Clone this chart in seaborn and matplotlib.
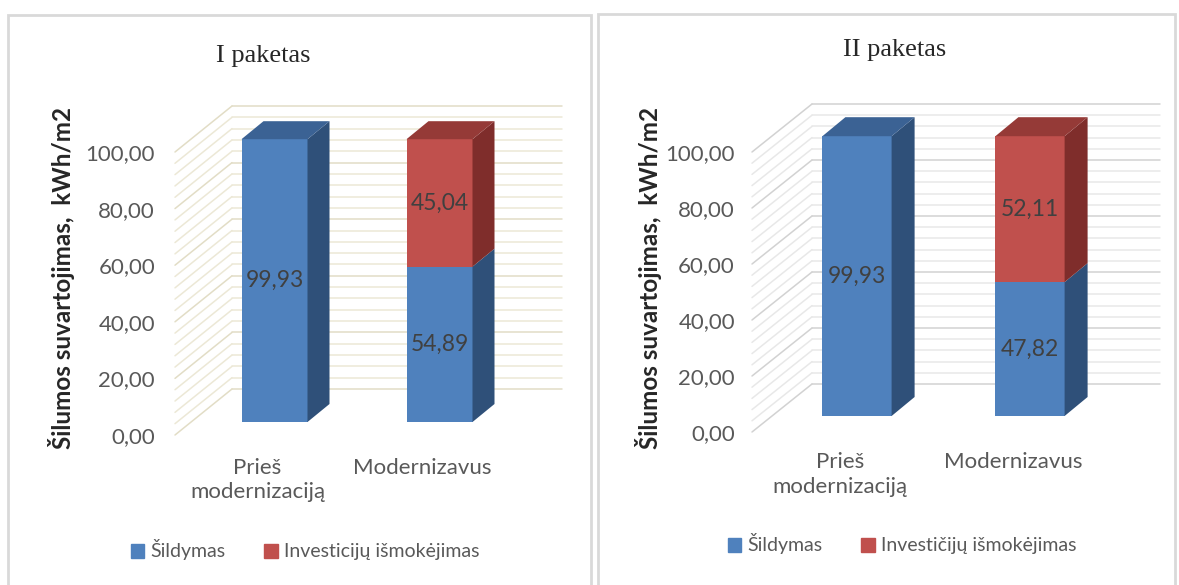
import numpy as np
import pandas as pd
import matplotlib.pyplot as plt
import seaborn as sns
from matplotlib.patches import Polygon, Rectangle, Patch

# Data
categories = ["Prieš\nmodernizaciją", "Modernizavus"]
heat_1 = [99.93, 54.89]
invest_1 = [0.0, 45.04]
heat_2 = [99.93, 47.82]
invest_2 = [0.0, 52.11]
titles = ["I paketas", "II paketas"]
legend_1 = ["Šildymas", "Investicijų išmokėjimas"]
legend_2 = ["Šildymas", "Investičijų išmokėjimas"]
y_label = "Šilumos suvartojimas,  kWh/m2"
y_ticks = [0, 20, 40, 60, 80, 100]
grid_step = 4

BLUE, BLUE_SIDE, BLUE_TOP = "#4f81bd", "#2f5079", "#3b6294"
RED, RED_SIDE, RED_TOP = "#c0504d", "#7f2d2b", "#953a37"

sns.set_theme(style="white")
plt.rcParams['font.family'] = ['Lato', 'DejaVu Sans']

W, H = 1179, 585
fig = plt.figure(figsize=(W / 100, H / 100), dpi=100)

# panel geometry in pixels (3D look of the original)
geo_1 = dict(c0=274.5, sp=165, y0=422, ppu=2.83, diag=175, wall=232, wall_top=106,
             label0=435, gend=562, bdx=22, bdy=18, left=170, right=566, top=95,
             bottom=445, lab_dx=-17, tick_right=155, ylab_x=62, title=(263, 56),
             legend=(305, 550), minor="#ece8d6", major="#e2ddc6")
geo_2 = dict(c0=857, sp=173, y0=416, ppu=2.8, diag=752, wall=812, wall_top=104,
             label0=432, gend=1160, bdx=23, bdy=19, left=747, right=1164, top=90,
             bottom=440, lab_dx=-17, tick_right=735, ylab_x=648, title=(895, 50),
             legend=(902, 544), minor="#e8e8e8", major="#d2d2d2")


def fmt(v):
    return f"{v:.2f}".replace(".", ",")


def draw_panel(g, heat, inv, title, leg_labels):
    ax = fig.add_axes([g['left'] / W, 1 - g['bottom'] / H,
                       (g['right'] - g['left']) / W, (g['bottom'] - g['top']) / H])
    ppu, sp = g['ppu'], g['sp']

    df = pd.DataFrame({'cat': categories, 'heat': heat, 'total': np.add(heat, inv)})
    sns.barplot(data=df, x='cat', y='total', color=RED, width=0.4, saturation=1,
                ax=ax, zorder=3, linewidth=0, edgecolor='none')
    n = len(ax.patches)
    sns.barplot(data=df, x='cat', y='heat', color=BLUE, width=0.4, saturation=1,
                ax=ax, zorder=4, linewidth=0, edgecolor='none')
    red_bars, blue_bars = ax.patches[:n], ax.patches[n:]

    bdx, bdy = g['bdx'] / sp, g['bdy'] / ppu
    for r, b, hv, iv in zip(red_bars, blue_bars, heat, inv):
        x, w = b.get_x(), b.get_width()
        hb, ht = b.get_height(), r.get_height()
        ax.add_patch(Polygon([(x + w, 0), (x + w + bdx, bdy), (x + w + bdx, hb + bdy),
                              (x + w, hb)], color=BLUE_SIDE, zorder=5, lw=0))
        if ht > hb:
            ax.add_patch(Polygon([(x + w, hb), (x + w + bdx, hb + bdy),
                                  (x + w + bdx, ht + bdy), (x + w, ht)],
                                 color=RED_SIDE, zorder=5, lw=0))
        top_c = RED_TOP if ht > hb else BLUE_TOP
        ax.add_patch(Polygon([(x, ht), (x + bdx, ht + bdy), (x + w + bdx, ht + bdy),
                              (x + w, ht)], color=top_c, zorder=5, lw=0))
        ax.text(x + w / 2, hb / 2, fmt(hv), ha='center', va='center',
                fontsize=16.5, color="#404040", zorder=6)
        if iv > 0:
            ax.text(x + w / 2, hb + iv / 2, fmt(iv), ha='center', va='center',
                    fontsize=16.5, color="#404040", zorder=6)

    # floor diagonals and back wall gridlines
    label_dy = (g['y0'] - g['label0']) / ppu
    wall_dy = (g['y0'] - g['wall_top']) / ppu - max(y_ticks)
    dx0 = (g['diag'] - g['c0']) / sp
    wx = (g['wall'] - g['c0']) / sp
    gx = (g['gend'] - g['c0']) / sp
    for v in np.arange(0, max(y_ticks) + 1, grid_step):
        c = g['major'] if v % 20 == 0 else g['minor']
        ax.plot([dx0, wx], [v + label_dy, v + wall_dy], color=c, lw=1.1, zorder=1)
        ax.plot([wx, gx], [v + wall_dy, v + wall_dy], color=c, lw=1.1, zorder=1)

    ax.set_xlim((g['left'] - g['c0']) / sp, (g['right'] - g['c0']) / sp)
    ax.set_ylim((g['y0'] - g['bottom']) / ppu, (g['y0'] - g['top']) / ppu)
    ax.set_yticks(np.array(y_ticks) + label_dy, labels=[fmt(v) for v in y_ticks])
    ax.set_xticks(np.arange(len(categories)) + g['lab_dx'] / sp, labels=categories)
    ax.tick_params(axis='y', length=0, labelsize=16, labelcolor="#595959",
                   pad=(g['left'] - g['tick_right']) * 0.72)
    ax.tick_params(axis='x', length=0, labelsize=16, labelcolor="#595959", pad=9)
    for t in ax.get_xticklabels():
        t.set_multialignment('center')
        t.set_linespacing(1.3)
    ax.set_xlabel("")
    ax.set_ylabel("")
    ax.grid(False)
    sns.despine(ax=ax, left=True, bottom=True)
    ax.patch.set_alpha(0)

    fig.text(g['ylab_x'] / W, 1 - 278 / H, y_label, rotation=90, ha='center',
             va='center', fontsize=17.5, fontweight='bold', color="#262626")
    fig.text(g['title'][0] / W, 1 - g['title'][1] / H, title, ha='center',
             va='center', family='Liberation Serif', fontsize=19, color="#262626")
    handles = [Patch(color=BLUE), Patch(color=RED)]
    fig.legend(handles, leg_labels, loc='center',
               bbox_to_anchor=(g['legend'][0] / W, 1 - g['legend'][1] / H),
               ncol=2, frameon=False, fontsize=14, handlelength=0.7, handleheight=0.7,
               handletextpad=0.3, columnspacing=2.0, labelcolor="#595959")


# panel frames
fig.add_artist(Rectangle((8 / W, -0.1), 583 / W, 1.1 - 15 / H, transform=fig.transFigure,
                         fill=False, edgecolor="#d9d9d9", lw=2))
fig.add_artist(Rectangle((598 / W, -0.1), 577 / W, 1.1 - 14 / H, transform=fig.transFigure,
                         fill=False, edgecolor="#d9d9d9", lw=2))

draw_panel(geo_1, heat_1, invest_1, titles[0], legend_1)
draw_panel(geo_2, heat_2, invest_2, titles[1], legend_2)

fig.savefig("out.png", dpi=100)
